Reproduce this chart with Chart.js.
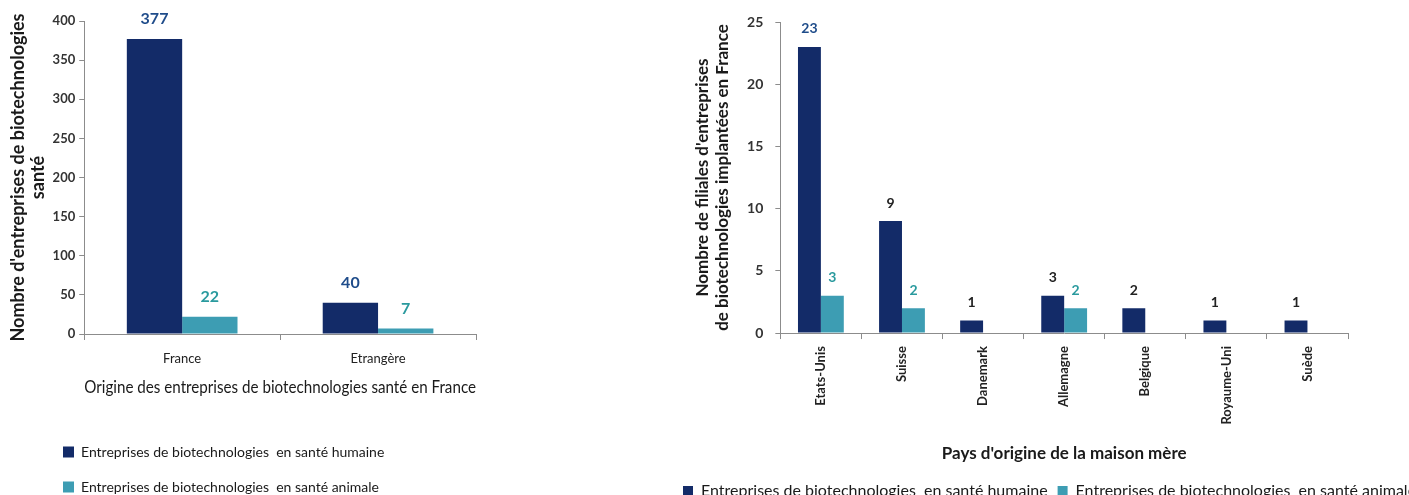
<!DOCTYPE html>
<html>
<head>
<meta charset="utf-8">
<script src="https://cdn.jsdelivr.net/npm/chart.js@4"></script>
<style>
  html, body { margin: 0; padding: 0; background: #fff; overflow: hidden; width: 1409px; height: 495px; }
  #left { position: absolute; left: 0; top: 0; width: 500px; height: 495px; }
  #right { position: absolute; left: 680px; top: 0; width: 790px; height: 509px; }
</style>
</head>
<body>
<div id="left"><canvas id="origin-chart"></canvas></div>
<div id="right"><canvas id="country-chart"></canvas></div>
<script>
const originLabels = ['France', 'Etrangère'];
const originHuman = [377, 40];
const originAnimal = [22, 7];

const countryLabels = ['Etats-Unis', 'Suisse', 'Danemark', 'Allemagne', 'Belgique', 'Royaume-Uni', 'Suède'];
const countryHuman = [23, 9, 1, 3, 2, 1, 1];
const countryAnimal = [3, 2, null, 2, null, null, null];

const seriesNames = [
  'Entreprises de biotechnologies  en santé humaine',
  'Entreprises de biotechnologies  en santé animale'
];

const NAVY = '#132b68';
const TEAL = '#3d9db3';

Chart.defaults.font.family = 'Lato';
Chart.defaults.color = '#222';

// value above each bar
const valueLabels = {
  id: 'valueLabels',
  afterDatasetsDraw(chart, args, opts) {
    const ctx = chart.ctx;
    chart.data.datasets.forEach((ds, i) => {
      const meta = chart.getDatasetMeta(i);
      meta.data.forEach((bar, j) => {
        const v = ds.data[j];
        if (v == null) return;
        ctx.save();
        ctx.fillStyle = Array.isArray(ds.valueColor) ? ds.valueColor[j] : ds.valueColor;
        ctx.font = opts.font;
        ctx.textAlign = 'center';
        ctx.textBaseline = 'bottom';
        ctx.fillText(v, bar.x, bar.y - opts.offset);
        ctx.restore();
      });
    });
  }
};

// nudge the legend after layout
const legendShift = {
  id: 'legendShift',
  afterLayout(chart, args, opts) {
    if (!chart.legend) return;
    chart.legend.left += opts.x || 0;
    chart.legend.top += opts.y || 0;
  }
};

const axisGrey = '#8c8c8c';

new Chart(document.getElementById('origin-chart'), {
  type: 'bar',
  data: {
    labels: originLabels,
    datasets: [{
      label: seriesNames[0],
      data: originHuman,
      backgroundColor: NAVY,
      valueColor: '#1f4c8a'
    }, {
      label: seriesNames[1],
      data: originAnimal,
      backgroundColor: TEAL,
      valueColor: '#2a9a9e'
    }]
  },
  options: {
    responsive: true,
    maintainAspectRatio: false,
    animation: false,
    layout: { padding: { top: 21, right: 24 } },
    datasets: { bar: { categoryPercentage: 0.565, barPercentage: 1 } },
    scales: {
      x: {
        grid: { drawOnChartArea: false, color: axisGrey, tickLength: 6 },
        border: { color: axisGrey },
        ticks: { font: { size: 13 }, color: '#222', padding: 11 },
        title: {
          display: true,
          text: 'Origine des entreprises de biotechnologies santé en France',
          font: { size: 17 },
          color: '#1a1a1a',
          padding: { top: 0, bottom: 17 }
        }
      },
      y: {
        min: 0,
        max: 400,
        ticks: { stepSize: 50, font: { size: 13, weight: 'bold' }, color: '#333', padding: 4 },
        grid: { drawOnChartArea: false, color: axisGrey, tickLength: 5 },
        border: { color: axisGrey },
        title: {
          display: true,
          text: ["Nombre d'entreprises de biotechnologies", 'santé'],
          font: { size: 18, weight: 'bold', lineHeight: 1.1 },
          color: '#1a1a1a',
          padding: { top: 8, bottom: 1 }
        }
      }
    },
    plugins: {
      legend: {
        position: 'bottom',
        align: 'start',
        labels: { boxWidth: 11, boxHeight: 11, padding: 21, font: { size: 14 }, color: '#1a1a1a' }
      },
      legendShift: { x: 42, y: 9 },
      valueLabels: { font: 'bold 16px Lato', offset: 12 },
      tooltip: { enabled: false }
    }
  },
  plugins: [valueLabels, legendShift]
});

new Chart(document.getElementById('country-chart'), {
  type: 'bar',
  data: {
    labels: countryLabels,
    datasets: [{
      label: seriesNames[0],
      data: countryHuman,
      backgroundColor: NAVY,
      valueColor: ['#1f4c8a', '#222', '#222', '#222', '#222', '#222', '#222']
    }, {
      label: seriesNames[1],
      data: countryAnimal,
      backgroundColor: TEAL,
      valueColor: '#2a9a9e'
    }]
  },
  options: {
    responsive: true,
    maintainAspectRatio: false,
    animation: false,
    layout: { padding: { top: 22 } },
    datasets: { bar: { categoryPercentage: 0.565, barPercentage: 1 } },
    scales: {
      x: {
        grid: { drawOnChartArea: false, color: axisGrey, tickLength: 6 },
        border: { color: axisGrey },
        ticks: { font: { size: 13, weight: 'bold' }, color: '#222', minRotation: 90, maxRotation: 90, padding: 7 },
        title: {
          display: true,
          text: "Pays d'origine de la maison mère",
          font: { size: 17, weight: 'bold' },
          color: '#1a1a1a',
          padding: { top: 12, bottom: 9 }
        }
      },
      y: {
        min: 0,
        max: 25,
        ticks: { stepSize: 5, font: { size: 14, weight: 'bold' }, color: '#333', padding: 12 },
        grid: { drawOnChartArea: false, color: axisGrey, tickLength: 5 },
        border: { color: axisGrey },
        title: {
          display: true,
          text: ["Nombre de filiales d'entreprises", 'de biotechnologies implantées en France'],
          font: { size: 17, weight: 'bold', lineHeight: 1.15 },
          color: '#1a1a1a',
          padding: { top: 13, bottom: 3 }
        }
      },
      pad: {
        type: 'linear',
        position: 'right',
        grid: { display: false },
        border: { display: false },
        ticks: { display: false },
        afterFit(scale) { scale.width = 122; }
      }
    },
    plugins: {
      legend: {
        position: 'bottom',
        align: 'start',
        labels: { boxWidth: 10, boxHeight: 10, padding: 10, font: { size: 16 }, color: '#1a1a1a' }
      },
      legendShift: { x: -7, y: 0 },
      valueLabels: { font: 'bold 14px Lato', offset: 11 },
      tooltip: { enabled: false }
    }
  },
  plugins: [valueLabels, legendShift]
});
</script>
</body>
</html>
